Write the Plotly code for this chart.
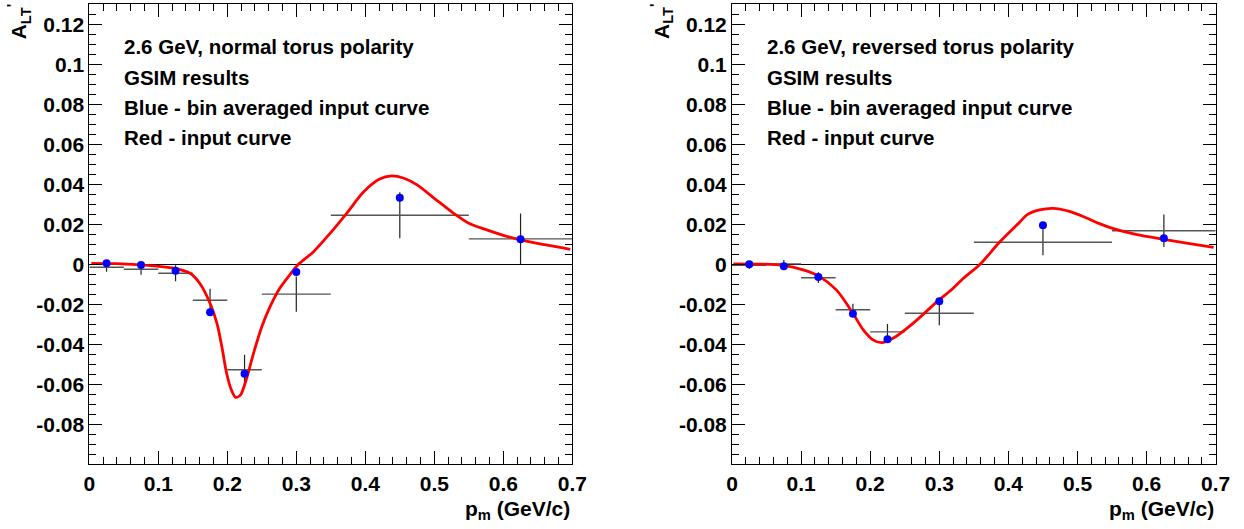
import plotly.graph_objects as go

W, H = 1244, 529

# ---------------- data ----------------
bin_centers = [0.025, 0.075, 0.125, 0.175, 0.225, 0.3, 0.45, 0.625]
bin_halfwidths = [0.025, 0.025, 0.025, 0.025, 0.025, 0.05, 0.1, 0.075]

# left panel: normal torus polarity
left_gsim_y = [-0.0015, -0.0025, -0.0045, -0.018, -0.0527, -0.0149, 0.0245, 0.0127]
left_gsim_err = [0.0022, 0.0027, 0.004, 0.0058, 0.0075, 0.0088, 0.0115, 0.0127]
left_binavg_y = [0.0005, -0.0004, -0.0032, -0.024, -0.0547, -0.0038, 0.0333, 0.0125]
left_curve_x = [0.003, 0.04, 0.073, 0.1, 0.124, 0.146, 0.16, 0.175, 0.185, 0.192, 0.199,
                0.206, 0.212, 0.219, 0.228, 0.238, 0.25, 0.262, 0.276, 0.29, 0.303, 0.325,
                0.349, 0.373, 0.397, 0.42, 0.438, 0.456, 0.475, 0.5, 0.528, 0.55, 0.576,
                0.6, 0.625, 0.66, 0.697]
left_curve_y = [0.0005, 0.0003, -0.0003, -0.001, -0.002, -0.0045, -0.0095, -0.0195, -0.0295,
                -0.041, -0.0545, -0.0629, -0.0665, -0.0654, -0.057, -0.0445, -0.0312, -0.0212,
                -0.012, -0.0055, 0.0, 0.0063, 0.0155, 0.0255, 0.036, 0.0425, 0.0442, 0.043,
                0.0397, 0.033, 0.0255, 0.0205, 0.0172, 0.0145, 0.0122, 0.0098, 0.0075]

# right panel: reversed torus polarity
right_gsim_y = [-0.0005, 0.0002, -0.0067, -0.0227, -0.0338, -0.0245, 0.011, 0.0168]
right_gsim_err = [0.0019, 0.002, 0.0027, 0.003, 0.004, 0.006, 0.0065, 0.0081]
right_binavg_y = [0.0, -0.001, -0.0063, -0.0247, -0.0375, -0.0185, 0.0195, 0.013]
right_curve_x = [0.002, 0.04, 0.074, 0.103, 0.125, 0.151, 0.1745, 0.19, 0.204, 0.2165, 0.233,
                 0.262, 0.2996, 0.315, 0.335, 0.359, 0.387, 0.417, 0.4267, 0.445, 0.465,
                 0.487, 0.509, 0.53, 0.552, 0.586, 0.625, 0.66, 0.697]
right_curve_y = [0.0002, 0.0001, -0.0005, -0.0028, -0.0058, -0.0128, -0.0242, -0.0328,
                 -0.0378, -0.0392, -0.037, -0.0295, -0.0178, -0.0135, -0.007, 0.0, 0.011,
                 0.0213, 0.0247, 0.0272, 0.028, 0.0266, 0.0238, 0.0206, 0.0178, 0.0148,
                 0.0125, 0.0105, 0.0085]

x_tickvals = [0, 0.1, 0.2, 0.3, 0.4, 0.5, 0.6, 0.7]
x_ticktext = ["0", "0.1", "0.2", "0.3", "0.4", "0.5", "0.6", "0.7"]
y_tickvals = [-0.08, -0.06, -0.04, -0.02, 0, 0.02, 0.04, 0.06, 0.08, 0.1, 0.12]
y_ticktext = ["-0.08", "-0.06", "-0.04", "-0.02", "0", "0.02", "0.04", "0.06", "0.08", "0.1", "0.12"]

panel_texts = [
    ["2.6 GeV, normal torus polarity", "GSIM results",
     "Blue - bin averaged input curve", "Red - input curve"],
    ["2.6 GeV, reversed torus polarity", "GSIM results",
     "Blue - bin averaged input curve", "Red - input curve"],
]

# ---------------- layout geometry (pixels) ----------------
panels_px = [(89.3, 572.3), (732.0, 1215.7)]
top_px, bot_px = 4.3, 464.3

FONT = "Liberation Sans, Arial, Helvetica, sans-serif"

fig = go.Figure()

datasets = [
    (left_gsim_y, left_gsim_err, left_binavg_y, left_curve_x, left_curve_y),
    (right_gsim_y, right_gsim_err, right_binavg_y, right_curve_x, right_curve_y),
]

for i, (gy, ge, by, cx, cy) in enumerate(datasets):
    xa = "x" if i == 0 else "x2"
    ya = "y" if i == 0 else "y2"
    fig.add_trace(go.Scatter(
        x=bin_centers, y=gy, mode="markers", xaxis=xa, yaxis=ya,
        marker=dict(size=1, color="rgba(0,0,0,0)"),
        error_x=dict(type="data", array=bin_halfwidths, visible=True,
                     color="#555555", thickness=1.4, width=0),
        error_y=dict(type="data", array=ge, visible=True,
                     color="#222222", thickness=1.2, width=0),
        showlegend=False, hoverinfo="skip"))
    fig.add_trace(go.Scatter(
        x=cx, y=cy, mode="lines", xaxis=xa, yaxis=ya,
        line=dict(color="#ff0000", width=2.8, shape="spline", smoothing=0.8),
        showlegend=False))
    fig.add_trace(go.Scatter(
        x=bin_centers, y=by, mode="markers", xaxis=xa, yaxis=ya,
        marker=dict(size=8, color="#0000ff"),
        showlegend=False))

def xaxis_cfg(x0, x1, anchor):
    return dict(
        domain=[x0 / W, x1 / W], anchor=anchor, range=[0, 0.7], automargin=False,
        tickvals=x_tickvals, ticktext=x_ticktext,
        ticks="inside", ticklen=13, tickwidth=1, tickcolor="black",
        minor=dict(dtick=0.02, tick0=0, ticks="inside", ticklen=7, tickcolor="black", tickwidth=1),
        showline=True, linecolor="black", linewidth=1, mirror="allticks",
        showgrid=False, zeroline=False,
        tickfont=dict(family=FONT, size=21, color="black", weight=700),
    )

def yaxis_cfg(anchor):
    return dict(
        domain=[1 - bot_px / H, 1 - top_px / H], anchor=anchor, range=[-0.1, 0.13],
        automargin=False,
        tickvals=y_tickvals, ticktext=y_ticktext,
        ticks="inside", ticklen=13, tickwidth=1, tickcolor="black",
        minor=dict(dtick=0.005, tick0=0, ticks="inside", ticklen=7, tickcolor="black", tickwidth=1),
        showline=True, linecolor="black", linewidth=1, mirror="allticks",
        showgrid=False, zeroline=True, zerolinecolor="black", zerolinewidth=1,
        tickfont=dict(family=FONT, size=21, color="black", weight=700),
    )

annotations = []
for i, (x0, x1) in enumerate(panels_px):
    # y-axis title
    annotations.append(dict(
        xref="paper", yref="paper", x=(x0 - 71) / W, y=1 - 1 / H,
        xanchor="center", yanchor="top", textangle=-90, showarrow=False,
        text="A<sub>LT</sub><sup>'</sup>",
        font=dict(family=FONT, size=21, color="black", weight=700)))
    # x-axis title
    annotations.append(dict(
        xref="paper", yref="paper", x=x1 / W, y=1 - 510 / H,
        xanchor="right", yanchor="middle", showarrow=False,
        text="p<sub>m</sub> (GeV/c)",
        font=dict(family=FONT, size=21, color="black", weight=700)))
    for k, t in enumerate(panel_texts[i]):
        annotations.append(dict(
            xref="paper", yref="paper", x=(x0 + 33) / W, y=1 - (47 + 30.2 * k) / H,
            xanchor="left", yanchor="middle", showarrow=False, text=t,
            font=dict(family=FONT, size=20.5, color="black", weight=700)))

fig.update_layout(
    width=W, height=H, margin=dict(l=0, r=0, t=0, b=0, autoexpand=False),
    paper_bgcolor="white", plot_bgcolor="white",
    xaxis=xaxis_cfg(*panels_px[0], "y"),
    yaxis=yaxis_cfg("x"),
    xaxis2=xaxis_cfg(*panels_px[1], "y2"),
    yaxis2=yaxis_cfg("x2"),
    annotations=annotations,
    showlegend=False,
)

fig.write_html("out.html")
